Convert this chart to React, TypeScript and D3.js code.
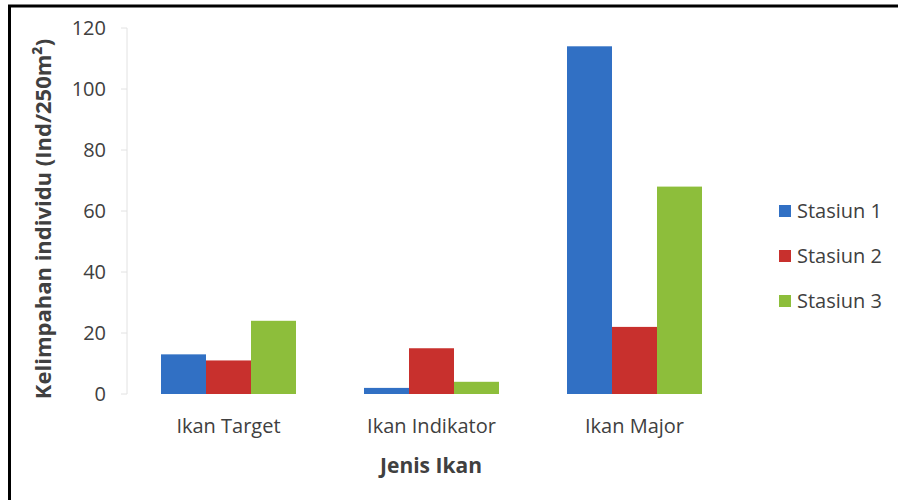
import React from "react";
import * as d3 from "d3";

const categories = ["Ikan Target", "Ikan Indikator", "Ikan Major"];
const seriesNames = ["Stasiun 1", "Stasiun 2", "Stasiun 3"];
const stasiun1 = [13, 2, 114];
const stasiun2 = [11, 15, 22];
const stasiun3 = [24, 4, 68];
const yTicks = [0, 20, 40, 60, 80, 100, 120];
const colors = ["#3170C4", "#C8302D", "#8DBE3B"];

const W = 898;
const H = 500;
const FONT = "'Open Sans', 'Noto Sans', sans-serif";

export default function App() {
  const series = [stasiun1, stasiun2, stasiun3];
  const x0 = d3.scaleBand<string>().domain(categories).range([127, 736]).paddingInner(0.335).paddingOuter(0.1675);
  const x1 = d3.scaleBand<string>().domain(seriesNames).range([0, x0.bandwidth()]);
  const y = d3.scaleLinear().domain([0, 120]).range([394, 28]);
  const textColor = "#404040";

  return (
    <svg width={W} height={H} style={{ position: "absolute", left: 0, top: 0, background: "#fff" }}>
      <rect x={0} y={0} width={W} height={H} fill="#fff" />
      {/* border */}
      <line x1={9.5} y1={5} x2={9.5} y2={H} stroke="#000" strokeWidth={3} />
      <line x1={8} y1={6} x2={W} y2={6} stroke="#000" strokeWidth={3} />
      {/* y axis */}
      <line x1={127} y1={y(120)} x2={127} y2={y(0)} stroke="#e2e2e2" strokeWidth={1} />
      {yTicks.map((t) => (
        <g key={t}>
          <line x1={121} x2={127} y1={y(t)} y2={y(t)} stroke="#e2e2e2" strokeWidth={1} />
          <text x={106} y={y(t)} dy="0.35em" textAnchor="end" fontFamily={FONT} fontSize={20} fill={textColor}>
            {t}
          </text>
        </g>
      ))}
      {/* bars */}
      {categories.map((c, i) => (
        <g key={c} transform={`translate(${x0(c)},0)`}>
          {seriesNames.map((s, j) => (
            <rect
              key={s}
              x={x1(s)}
              y={y(series[j][i])}
              width={x1.bandwidth()}
              height={y(0) - y(series[j][i])}
              fill={colors[j]}
            />
          ))}
        </g>
      ))}
      {/* category labels */}
      {categories.map((c) => (
        <text
          key={c}
          x={(x0(c) as number) + x0.bandwidth() / 2}
          y={433}
          textAnchor="middle"
          fontFamily={FONT}
          fontSize={20}
          fill={textColor}
        >
          {c}
        </text>
      ))}
      {/* x title */}
      <text x={431} y={473} textAnchor="middle" fontFamily={FONT} fontSize={21} fontWeight="bold" fill={textColor}>
        Jenis Ikan
      </text>
      {/* y title */}
      <text
        transform={`translate(51,219) rotate(-90)`}
        textAnchor="middle"
        fontFamily={FONT}
        fontSize={22}
        fontWeight="bold"
        fill={textColor}
      >
        Kelimpahan individu (Ind/250m²)
      </text>
      {/* legend */}
      {seriesNames.map((s, j) => (
        <g key={s} transform={`translate(779,${211 + j * 45})`}>
          <rect x={0} y={-6} width={12} height={12} fill={colors[j]} />
          <text x={18} y={0} dy="0.35em" fontFamily={FONT} fontSize={20} fill={textColor}>
            {s}
          </text>
        </g>
      ))}
    </svg>
  );
}
